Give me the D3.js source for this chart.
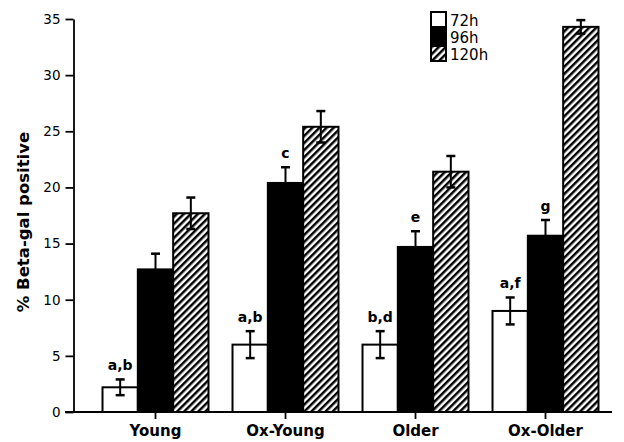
<!DOCTYPE html>
<html>
<head>
<meta charset="utf-8">
<script src="https://cdnjs.cloudflare.com/ajax/libs/d3/7.8.5/d3.min.js"></script>
<style>
  body { margin: 0; background: #fff; }
  svg { display: block; font-family: "DejaVu Sans", sans-serif; }
</style>
</head>
<body>
<svg id="chart" width="624" height="442"></svg>
<script>
const groups = ["Young", "Ox-Young", "Older", "Ox-Older"];
const series = ["72h", "96h", "120h"];
const values72 = [2.2, 6.0, 6.0, 9.0];
const values96 = [12.7, 20.4, 14.7, 15.7];
const values120 = [17.7, 25.4, 21.4, 34.3];
const err72 = [0.7, 1.2, 1.2, 1.2];
const err96 = [1.4, 1.4, 1.4, 1.4];
const err120 = [1.4, 1.4, 1.4, 0.6];
const notes72 = ["a,b", "a,b", "b,d", "a,f"];
const notes96 = ["", "c", "e", "g"];
const notes120 = ["", "", "", ""];
const yTicks = [0, 5, 10, 15, 20, 25, 30, 35];

const svg = d3.select("#chart");

// hatch for the 120h bars
svg.append("defs").append("pattern")
    .attr("id", "hatch")
    .attr("patternUnits", "userSpaceOnUse")
    .attr("width", 5)
    .attr("height", 5)
    .attr("patternTransform", "rotate(45)")
  .call(p => {
    p.append("rect").attr("width", 5).attr("height", 5).attr("fill", "#fff");
    p.append("line").attr("x1", 1.2).attr("x2", 1.2).attr("y1", 0).attr("y2", 5)
      .attr("stroke", "#000").attr("stroke-width", 2.6);
  });

const fills = { "72h": "#fff", "96h": "#000", "120h": "url(#hatch)" };

const x = d3.scaleBand().domain(groups).range([90.5, 610.5]).padding(0);
const x1 = d3.scaleBand().domain(series).range([0, x.bandwidth()]).paddingInner(0).paddingOuter(0.34);
const y = d3.scaleLinear().domain([0, 35]).range([412, 19]);

// build rows from the arrays
const rows = [];
groups.forEach((g, i) => {
  rows.push({ g, s: "72h", v: values72[i], e: err72[i], note: notes72[i] });
  rows.push({ g, s: "96h", v: values96[i], e: err96[i], note: notes96[i] });
  rows.push({ g, s: "120h", v: values120[i], e: err120[i], note: notes120[i] });
});

// bars
svg.append("g").selectAll("rect")
  .data(rows)
  .join("rect")
    .attr("x", d => x(d.g) + x1(d.s))
    .attr("y", d => y(d.v))
    .attr("width", x1.bandwidth())
    .attr("height", d => y(0) - y(d.v))
    .attr("fill", d => fills[d.s])
    .attr("stroke", "#000")
    .attr("stroke-width", 2);

// error bars
const eb = svg.append("g").attr("stroke", "#000");
rows.forEach(d => {
  const cx = x(d.g) + x1(d.s) + x1.bandwidth() / 2;
  eb.append("line").attr("x1", cx).attr("x2", cx)
    .attr("y1", y(d.v - d.e)).attr("y2", y(d.v + d.e)).attr("stroke-width", 2);
  [d.v - d.e, d.v + d.e].forEach(v => {
    eb.append("line").attr("x1", cx - 4.5).attr("x2", cx + 4.5)
      .attr("y1", y(v)).attr("y2", y(v)).attr("stroke-width", 2.5);
  });
});

// significance letters
svg.append("g").selectAll("text")
  .data(rows.filter(d => d.note))
  .join("text")
    .attr("x", d => x(d.g) + x1(d.s) + x1.bandwidth() / 2)
    .attr("y", d => y(d.v + d.e) - 9)
    .attr("text-anchor", "middle")
    .attr("font-size", 14)
    .attr("font-weight", "bold")
    .text(d => d.note);

// y axis
const yAxis = svg.append("g")
    .attr("transform", "translate(73.5,0)")
    .call(d3.axisLeft(y).tickValues(yTicks).tickSize(8).tickPadding(5).tickSizeOuter(0));
yAxis.select(".domain").attr("stroke-width", 1.8);
yAxis.selectAll(".tick line").attr("stroke-width", 1.8);
yAxis.selectAll("text").attr("font-size", 13.5).attr("font-family", "DejaVu Sans").attr("fill", "#000");

// x axis
const xAxis = svg.append("g")
    .attr("transform", "translate(0,412)")
    .call(d3.axisBottom(x).tickSize(7).tickPadding(6).tickSizeOuter(0));
xAxis.select(".domain").remove();
xAxis.append("line").attr("x1", 65).attr("x2", 612).attr("stroke", "#000").attr("stroke-width", 2);
xAxis.selectAll(".tick line").attr("stroke-width", 1.8);
xAxis.selectAll("text").attr("font-size", 15).attr("font-weight", "bold")
  .attr("font-family", "DejaVu Sans").attr("fill", "#000");

// axis title
svg.append("text")
    .attr("transform", "translate(29,222) rotate(-90)")
    .attr("text-anchor", "middle")
    .attr("font-size", 16.5)
    .attr("font-weight", "bold")
    .text("% Beta-gal positive");

// legend
const legend = svg.append("g").attr("transform", "translate(431,12)");
series.forEach((s, i) => {
  const row = legend.append("g").attr("transform", `translate(0,${i * 17})`);
  row.append("rect").attr("x", 0).attr("y", 0).attr("width", 15).attr("height", 15)
    .attr("fill", fills[s]).attr("stroke", "#000").attr("stroke-width", 2);
  row.append("text").attr("x", 19).attr("y", 13.5).attr("font-size", 15).text(s);
});
</script>
</body>
</html>
